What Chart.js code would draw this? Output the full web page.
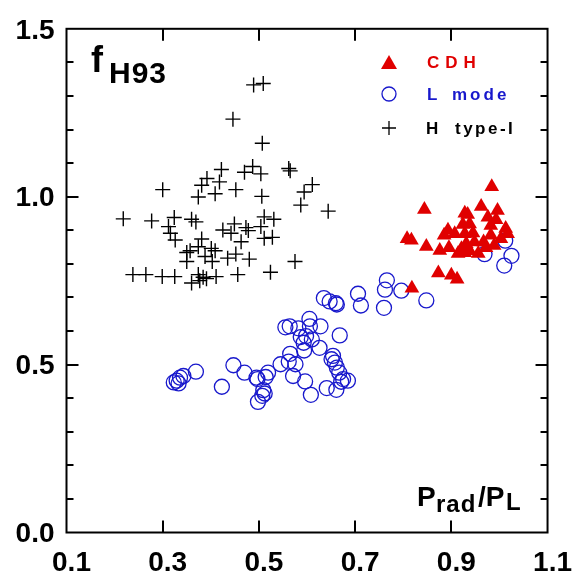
<!DOCTYPE html>
<html>
<head>
<meta charset="utf-8">
<title>fH93 vs Prad/PL</title>
<script src="https://cdn.jsdelivr.net/npm/chart.js@4.4.1/dist/chart.umd.min.js"></script>
<style>
  html, body { margin: 0; padding: 0; background: #fff; }
  #wrap { width: 581px; height: 577px; }
</style>
</head>
<body>
<div id="wrap"><canvas id="chart" width="581" height="577"></canvas></div>
<script>
// values
const cdhX = [0.984, 0.844, 0.962, 0.996, 0.928, 0.934, 0.976, 0.993, 0.924, 0.982,
  0.938, 0.893, 0.885, 0.907, 0.928, 0.945, 1.013, 1.017, 0.982, 0.808,
  0.817, 0.848, 0.876, 0.895, 0.921, 0.931, 0.948, 0.967, 0.989, 0.938,
  0.914, 0.928, 0.956, 0.972, 0.873, 0.900, 0.912, 0.818, 1.003];
const cdhY = [1.030, 0.962, 0.971, 0.959, 0.951, 0.947, 0.939, 0.931, 0.917, 0.914,
  0.919, 0.900, 0.885, 0.890, 0.890, 0.892, 0.905, 0.890, 0.885, 0.875,
  0.870, 0.852, 0.840, 0.848, 0.845, 0.860, 0.865, 0.865, 0.855, 0.839,
  0.831, 0.833, 0.831, 0.848, 0.773, 0.766, 0.754, 0.727, 0.875];

const lmodeX = [0.635, 0.647, 0.660, 0.662, 0.706, 0.712, 0.555, 0.564, 0.582, 0.605,
  0.606, 0.628, 0.587, 0.598, 0.610, 0.593, 0.594, 0.626, 0.668, 0.565,
  0.545, 0.562, 0.576, 0.571, 0.596, 0.608, 0.641, 0.654, 0.651, 0.658,
  0.662, 0.667, 0.675, 0.685, 0.671, 0.661, 0.447, 0.470, 0.495, 0.497,
  0.514, 0.519, 0.509, 0.512, 0.507, 0.498, 0.423, 0.369, 0.343, 0.336,
  0.329, 0.323, 0.333, 0.766, 0.762, 0.796, 0.760, 0.848, 0.969, 1.012,
  1.025, 1.010];
const lmodeY = [0.698, 0.688, 0.683, 0.679, 0.711, 0.676, 0.611, 0.614, 0.608, 0.636,
  0.614, 0.614, 0.582, 0.585, 0.575, 0.565, 0.542, 0.550, 0.587, 0.532,
  0.501, 0.509, 0.501, 0.466, 0.450, 0.410, 0.430, 0.526, 0.516, 0.506,
  0.491, 0.476, 0.457, 0.452, 0.449, 0.425, 0.498, 0.476, 0.461, 0.457,
  0.463, 0.476, 0.424, 0.414, 0.407, 0.389, 0.434, 0.479, 0.466, 0.461,
  0.452, 0.447, 0.444, 0.751, 0.723, 0.720, 0.669, 0.691, 0.829, 0.869,
  0.824, 0.795];

const htypeX = [0.489, 0.509, 0.446, 0.507, 0.422, 0.470, 0.487, 0.504, 0.562, 0.565,
  0.392, 0.381, 0.418, 0.300, 0.374, 0.409, 0.452, 0.506, 0.611, 0.594,
  0.587, 0.644, 0.277, 0.324, 0.312, 0.316, 0.326, 0.360, 0.369, 0.511,
  0.531, 0.449, 0.425, 0.442, 0.473, 0.478, 0.504, 0.511, 0.528, 0.463,
  0.381, 0.350, 0.357, 0.374, 0.401, 0.409, 0.350, 0.388, 0.403, 0.435,
  0.452, 0.480, 0.575, 0.299, 0.325, 0.374, 0.384, 0.411, 0.456, 0.524,
  0.360, 0.377, 0.391, 0.218, 0.238, 0.265];
const htypeY = [1.333, 1.337, 1.231, 1.159, 1.081, 1.073, 1.090, 1.068, 1.084, 1.077,
  1.054, 1.034, 1.044, 1.021, 0.999, 1.009, 1.021, 1.001, 1.036, 1.014,
  0.975, 0.957, 0.928, 0.938, 0.911, 0.891, 0.871, 0.933, 0.925, 0.940,
  0.933, 0.919, 0.901, 0.891, 0.908, 0.899, 0.911, 0.876, 0.879, 0.866,
  0.874, 0.834, 0.839, 0.851, 0.846, 0.839, 0.807, 0.822, 0.807, 0.817,
  0.829, 0.814, 0.807, 0.762, 0.762, 0.768, 0.760, 0.762, 0.768, 0.775,
  0.743, 0.750, 0.756, 0.934, 0.768, 0.768];

// axis labels and tick marks
const xTickLabels = [0.1, 0.3, 0.5, 0.7, 0.9, 1.1];
const yTickLabels = [0.0, 0.5, 1.0, 1.5];
const xTickMarks = [0.3, 0.5, 0.7, 0.9];
const yTickMarks = [0.1, 0.2, 0.3, 0.4, 0.5, 0.6, 0.7, 0.8, 0.9, 1.0, 1.1, 1.2, 1.3, 1.4];
const yMajorMarks = [0.5, 1.0];

const RED = '#e00000';
const BLUE = '#1818cc';
const FONT = '"Liberation Sans", Arial, Helvetica, sans-serif';

function toPoints(xs, ys) {
    return xs.map(function(x, i) { return { x: x, y: ys[i] }; });
}

// frame, inward ticks, annotations and the legend
const framePlugin = {
    id: 'frame',
    afterDraw: function(chart) {
        const ctx = chart.ctx;
        const a = chart.chartArea;
        const xs = chart.scales.x;
        const ys = chart.scales.y;
        ctx.save();
        ctx.strokeStyle = '#000';
        ctx.lineWidth = 2;
        ctx.strokeRect(a.left, a.top, a.right - a.left, a.bottom - a.top);

        ctx.beginPath();
        xTickMarks.forEach(function(v) {
            const px = Math.round(xs.getPixelForValue(v));
            ctx.moveTo(px, a.bottom);
            ctx.lineTo(px, a.bottom - 12);
            ctx.moveTo(px, a.top);
            ctx.lineTo(px, a.top + 12);
        });
        yTickMarks.forEach(function(v) {
            const py = Math.round(ys.getPixelForValue(v));
            const len = yMajorMarks.indexOf(v) >= 0 ? 12 : 7;
            ctx.moveTo(a.left, py);
            ctx.lineTo(a.left + len, py);
            ctx.moveTo(a.right, py);
            ctx.lineTo(a.right - len, py);
        });
        ctx.stroke();

        // f_H93
        ctx.fillStyle = '#000';
        ctx.textBaseline = 'alphabetic';
        ctx.textAlign = 'left';
        ctx.font = 'bold 36px ' + FONT;
        ctx.fillText('f', 91, 72);
        ctx.font = 'bold 30px ' + FONT;
        ctx.letterSpacing = '1px';
        ctx.fillText('H93', 109, 83);

        // P_rad / P_L
        ctx.letterSpacing = '0px';
        ctx.font = 'bold 28px ' + FONT;
        ctx.fillText('P', 417, 506);
        ctx.font = 'bold 24px ' + FONT;
        ctx.letterSpacing = '1px';
        ctx.fillText('rad', 436, 512);
        ctx.letterSpacing = '0px';
        ctx.font = 'bold 28px ' + FONT;
        ctx.fillText('/P', 478, 506);
        ctx.font = 'bold 24px ' + FONT;
        ctx.fillText('L', 506, 510);

        // legend
        ctx.beginPath();
        ctx.fillStyle = RED;
        ctx.moveTo(389, 55);
        ctx.lineTo(397, 69);
        ctx.lineTo(381, 69);
        ctx.closePath();
        ctx.fill();

        ctx.beginPath();
        ctx.strokeStyle = BLUE;
        ctx.lineWidth = 1.3;
        ctx.arc(389, 94, 7, 0, Math.PI * 2);
        ctx.stroke();

        ctx.beginPath();
        ctx.strokeStyle = '#000';
        ctx.lineWidth = 1.3;
        ctx.moveTo(382, 128);
        ctx.lineTo(396, 128);
        ctx.moveTo(389, 121);
        ctx.lineTo(389, 135);
        ctx.stroke();

        ctx.font = 'bold 17px ' + FONT;
        ctx.fillStyle = RED;
        ctx.letterSpacing = '6px';
        ctx.fillText('CDH', 427, 68);
        ctx.fillStyle = BLUE;
        ctx.letterSpacing = '0px';
        ctx.fillText('L', 427, 100);
        ctx.letterSpacing = '3px';
        ctx.fillText('mode', 452, 100);
        ctx.fillStyle = '#000';
        ctx.letterSpacing = '0px';
        ctx.fillText('H', 426, 134);
        ctx.letterSpacing = '2.5px';
        ctx.fillText('type-I', 455, 134);
        ctx.restore();
    }
};

Chart.defaults.font.family = FONT;
Chart.defaults.color = '#000';

new Chart(document.getElementById('chart'), {
    type: 'scatter',
    data: {
        datasets: [{
            label: 'CDH',
            data: toPoints(cdhX, cdhY),
            pointStyle: 'triangle',
            radius: 8.5,
            backgroundColor: RED,
            borderColor: RED,
            borderWidth: 0
        }, {
            label: 'L mode',
            data: toPoints(lmodeX, lmodeY),
            pointStyle: 'circle',
            radius: 7.5,
            backgroundColor: 'rgba(0,0,0,0)',
            borderColor: BLUE,
            borderWidth: 1.3
        }, {
            label: 'H type-I',
            data: toPoints(htypeX, htypeY),
            pointStyle: 'cross',
            radius: 7.5,
            borderColor: '#000',
            borderWidth: 1.4
        }]
    },
    options: {
        responsive: false,
        animation: false,
        events: [],
        clip: false,
        layout: { padding: { top: 26, right: 27, left: 0, bottom: 0 } },
        plugins: {
            legend: { display: false },
            tooltip: { enabled: false }
        },
        scales: {
            x: {
                type: 'linear',
                min: 0.1,
                max: 1.1,
                grid: { display: false, drawTicks: false },
                border: { display: false },
                afterBuildTicks: function(s) {
                    s.ticks = xTickLabels.map(function(v) { return { value: v }; });
                },
                afterFit: function(s) { s.height = 44.5; },
                ticks: {
                    padding: 14,
                    labelOffset: 5,
                    maxRotation: 0,
                    font: { size: 28, weight: 'bold' },
                    callback: function(v) { return Number(v).toFixed(1); }
                }
            },
            y: {
                type: 'linear',
                min: 0,
                max: 1.5,
                grid: { display: false, drawTicks: false },
                border: { display: false },
                afterBuildTicks: function(s) {
                    s.ticks = yTickLabels.map(function(v) { return { value: v }; });
                },
                afterFit: function(s) { s.width = 66.5; },
                ticks: {
                    padding: 12,
                    labelOffset: 2,
                    font: { size: 28, weight: 'bold' },
                    callback: function(v) { return Number(v).toFixed(1); }
                }
            }
        }
    },
    plugins: [framePlugin]
});
</script>
</body>
</html>
